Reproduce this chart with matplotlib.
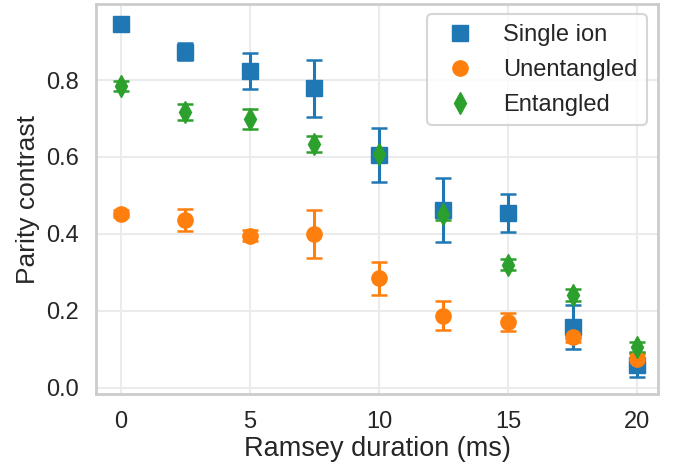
import numpy as np
import matplotlib
matplotlib.use("Agg")
import matplotlib.pyplot as plt
import seaborn as sns

# Ramsey durations (ms)
durations = [0, 2.5, 5, 7.5, 10, 12.5, 15, 17.5, 20]

single_ion = [0.945, 0.873, 0.823, 0.778, 0.605, 0.462, 0.454, 0.158, 0.060]
single_err = [0.008, 0.022, 0.047, 0.074, 0.070, 0.083, 0.049, 0.058, 0.031]

unentangled = [0.453, 0.437, 0.395, 0.400, 0.285, 0.188, 0.171, 0.133, 0.075]
unent_err = [0.010, 0.029, 0.014, 0.063, 0.043, 0.038, 0.023, 0.015, 0.012]

entangled = [0.784, 0.718, 0.700, 0.633, 0.607, 0.452, 0.320, 0.241, 0.106]
ent_err = [0.013, 0.021, 0.026, 0.021, 0.010, 0.015, 0.014, 0.015, 0.012]

sns.set_theme(style="whitegrid", context="talk")
plt.rcParams['font.family'] = ['Liberation Sans', 'DejaVu Sans']

fig = plt.figure(figsize=(6.86, 4.68), dpi=100)
ax = fig.add_axes([0.14, 0.158, 0.819, 0.833])

common = dict(linestyle='none', elinewidth=2.2, capsize=5.5, capthick=1.8, markersize=11)
ax.errorbar(durations, single_ion, yerr=single_err, fmt='s', color='#1f77b4',
            label='Single ion', **common)
ax.errorbar(durations, unentangled, yerr=unent_err, fmt='o', color='#ff7f0e',
            label='Unentangled', **common)
ax.errorbar(durations, entangled, yerr=ent_err, fmt='d', color='#2ca02c',
            label='Entangled', **common)

ax.set_xlim(-0.95, 20.8)
ax.set_ylim(-0.016, 0.997)
ax.set_xticks([0, 5, 10, 15, 20])
ax.set_yticks([0.0, 0.2, 0.4, 0.6, 0.8])
ax.tick_params(labelsize=17, colors='#262626')
ax.set_xlabel('Ramsey duration (ms)', fontsize=19.5, labelpad=2, color='#262626')
ax.set_ylabel('Parity contrast', fontsize=19, labelpad=4, color='#262626')
ax.grid(color='#ebebeb', linewidth=1.5)
for s in ax.spines.values():
    s.set_color('#cccccc')
    s.set_linewidth(2)

# legend shows markers only
handles, labels = ax.get_legend_handles_labels()
handles = [h[0] for h in handles]
ax.legend(handles, labels, loc='upper right', fontsize=17, handletextpad=0.8,
          borderpad=0.4, labelspacing=0.55, frameon=True, edgecolor='#cccccc',
          bbox_to_anchor=(0.980, 0.974), borderaxespad=0)

fig.savefig('out.png', dpi=100)
